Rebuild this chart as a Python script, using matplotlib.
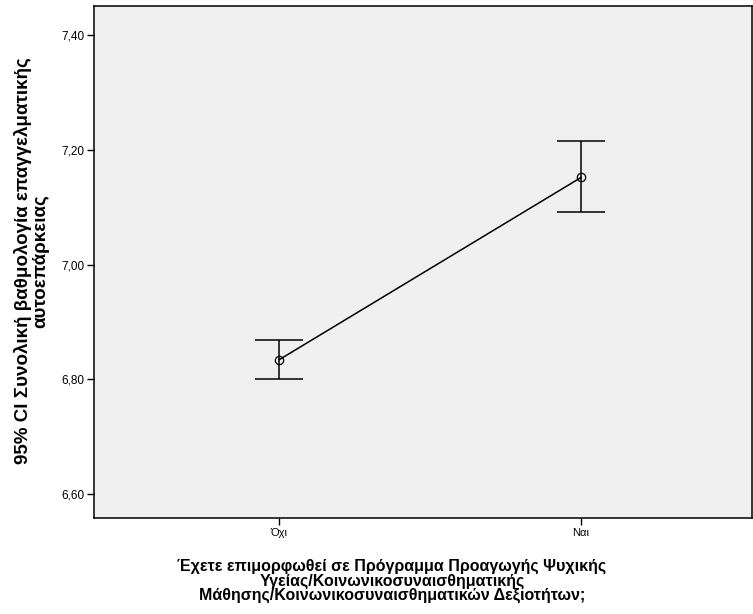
import numpy as np
from matplotlib import pyplot as plt

categories = ['Όχι', 'Ναι']
means = [6.834, 7.152]
ci_lower = [6.800, 7.091]
ci_upper = [6.869, 7.215]
y_ticks = [6.60, 6.80, 7.00, 7.20, 7.40]

plt.rcParams['font.family'] = ['Liberation Sans', 'DejaVu Sans']

fig = plt.figure(figsize=(7.53, 6.14), dpi=100)
ax = fig.add_axes([94 / 753, 1 - 518 / 614, (752 - 94) / 753, 512 / 614])
ax.set_facecolor('#f0f0f0')

x = np.arange(1, len(categories) + 1)
means = np.array(means)
yerr = np.vstack([means - np.array(ci_lower), np.array(ci_upper) - means])

ax.errorbar(x, means, yerr=yerr, fmt='none', ecolor='black', elinewidth=1.1,
            capsize=17, capthick=1.1)
ax.plot(x, means, color='black', linewidth=1.1, marker='o', markersize=6,
        markerfacecolor='none', markeredgecolor='black', markeredgewidth=0.9)

ax.set_xlim(0.387, 2.566)
ax.set_ylim(6.558, 7.451)
ax.set_xticks(x)
ax.set_xticklabels(categories, fontsize=8)
ax.set_yticks(y_ticks)
ax.set_yticklabels([f'{v:.2f}'.replace('.', ',') for v in y_ticks], fontsize=8.5)
ax.tick_params(direction='out', length=5, width=1, color='black', pad=2)
for s in ax.spines.values():
    s.set_color('black')
    s.set_linewidth(1.1)

fig.text(32 / 753, 1 - 261 / 614,
         '95% CI Συνολική βαθμολογία επαγγελματικής\nαυτοεπάρκειας',
         rotation=90, ha='center', va='center', fontsize=13.5, fontweight='bold',
         multialignment='center', linespacing=1.0)
fig.text(392 / 753, 1 - 581 / 614,
         'Έχετε επιμορφωθεί σε Πρόγραμμα Προαγωγής Ψυχικής\n'
         'Υγείας/Κοινωνικοσυναισθηματικής\n'
         'Μάθησης/Κοινωνικοσυναισθηματικών Δεξιοτήτων;',
         ha='center', va='center', fontsize=11.5, fontweight='bold',
         multialignment='center', linespacing=0.92)

fig.savefig('out.png', dpi=100)
